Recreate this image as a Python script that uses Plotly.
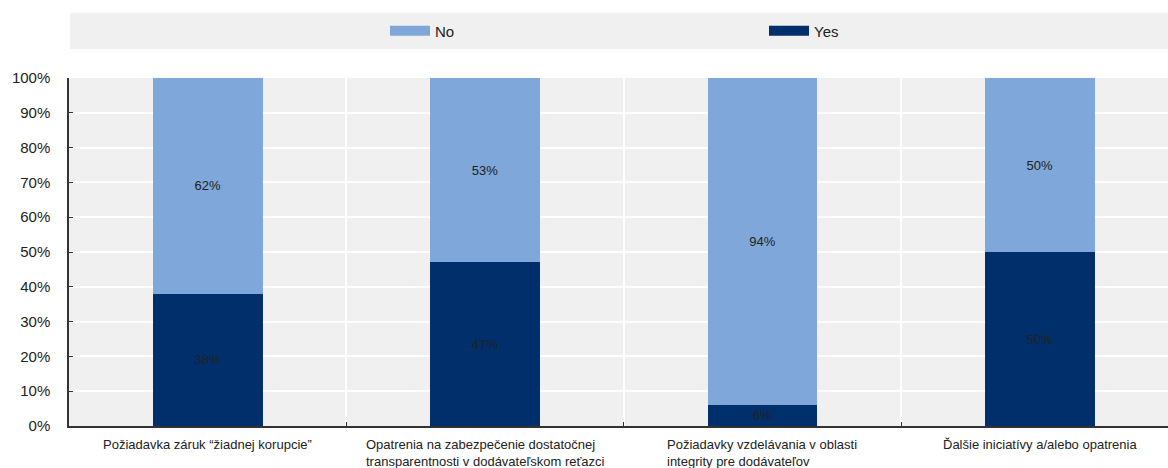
import plotly.graph_objects as go

categories = [
    "Požiadavka záruk “žiadnej korupcie”",
    "Opatrenia na zabezpečenie dostatočnej<br>transparentnosti v dodávateľskom reťazci",
    "Požiadavky vzdelávania v oblasti<br>integrity pre dodávateľov",
    "Ďalšie iniciatívy a/alebo opatrenia",
]
yes_vals = [38, 47, 6, 50]
no_vals = [62, 53, 94, 50]
ytick_vals = [0, 10, 20, 30, 40, 50, 60, 70, 80, 90, 100]
ytick_text = [f"{v}%" for v in ytick_vals]

C_NO = "#7FA7D9"
C_YES = "#002F6C"
LBL_FONT = dict(family="Liberation Sans, Arial", size=13, color="#222222")

keys = list(range(len(categories)))

fig = go.Figure()
fig.add_trace(go.Bar(
    x=keys, y=yes_vals, name="Yes", marker=dict(color=C_YES, line=dict(width=0)),
    text=[f"{v}%" for v in yes_vals], textposition="inside", insidetextanchor="middle",
    textfont=LBL_FONT, width=0.396, showlegend=False,
))
fig.add_trace(go.Bar(
    x=keys, y=no_vals, name="No", marker=dict(color=C_NO, line=dict(width=0)),
    text=[f"{v}%" for v in no_vals], textposition="inside", insidetextanchor="middle",
    textfont=LBL_FONT, width=0.396, showlegend=False,
))
# legend entries (thick line swatches)
fig.add_trace(go.Scatter(x=[None], y=[None], mode="lines", name="No",
                         line=dict(color=C_NO, width=11), legend="legend"))
fig.add_trace(go.Scatter(x=[None], y=[None], mode="lines", name="Yes",
                         line=dict(color=C_YES, width=11), legend="legend2"))

for i, c in enumerate(categories):
    fig.add_annotation(x=keys[i], y=0, xref="x", yref="paper", yanchor="top", yshift=-9,
                       text=c, showarrow=False, align="left", xanchor="center",
                       font=dict(family="Liberation Sans, Arial", size=13, color="#222222"))

fig.add_shape(type="rect", xref="paper", yref="paper", x0=0.001, x1=1, y0=1.083, y1=1.187,
              fillcolor="#F0F0F0", line=dict(width=0), layer="below")

leg_common = dict(orientation="h", xanchor="left", y=1.135, yanchor="middle",
                  bgcolor="rgba(0,0,0,0)", itemwidth=40,
                  font=dict(family="Liberation Sans, Arial", size=15, color="#222222"))

fig.update_layout(
    width=1168, height=468,
    margin=dict(l=69, r=0, t=78, b=42),
    barmode="stack",
    paper_bgcolor="white",
    plot_bgcolor="#F0F0F0",
    font=dict(family="Liberation Sans, Arial", color="#222222"),
    legend=dict(x=(385 - 69) / 1099, **leg_common),
    legend2=dict(x=(764 - 69) / 1099, **leg_common),
    xaxis=dict(
        range=[-0.5, 3.462], tickvals=[0.5, 1.5, 2.5], showticklabels=False,
        showgrid=True, gridcolor="white", gridwidth=1.5,
        ticks="inside", ticklen=4, tickcolor="#333333",
        showline=True, linecolor="#333333", linewidth=1.5, zeroline=False,
    ),
    yaxis=dict(
        range=[0, 100], tickvals=ytick_vals, ticktext=ytick_text,
        showgrid=True, gridcolor="white", gridwidth=1.5,
        ticks="inside", ticklen=4, tickcolor="#333333",
        showline=True, linecolor="#333333", linewidth=1.5, zeroline=False,
        ticklabelstandoff=14,
        tickfont=dict(family="Liberation Sans, Arial", size=15, color="#222222"),
    ),
)

fig.write_html("out.html")
